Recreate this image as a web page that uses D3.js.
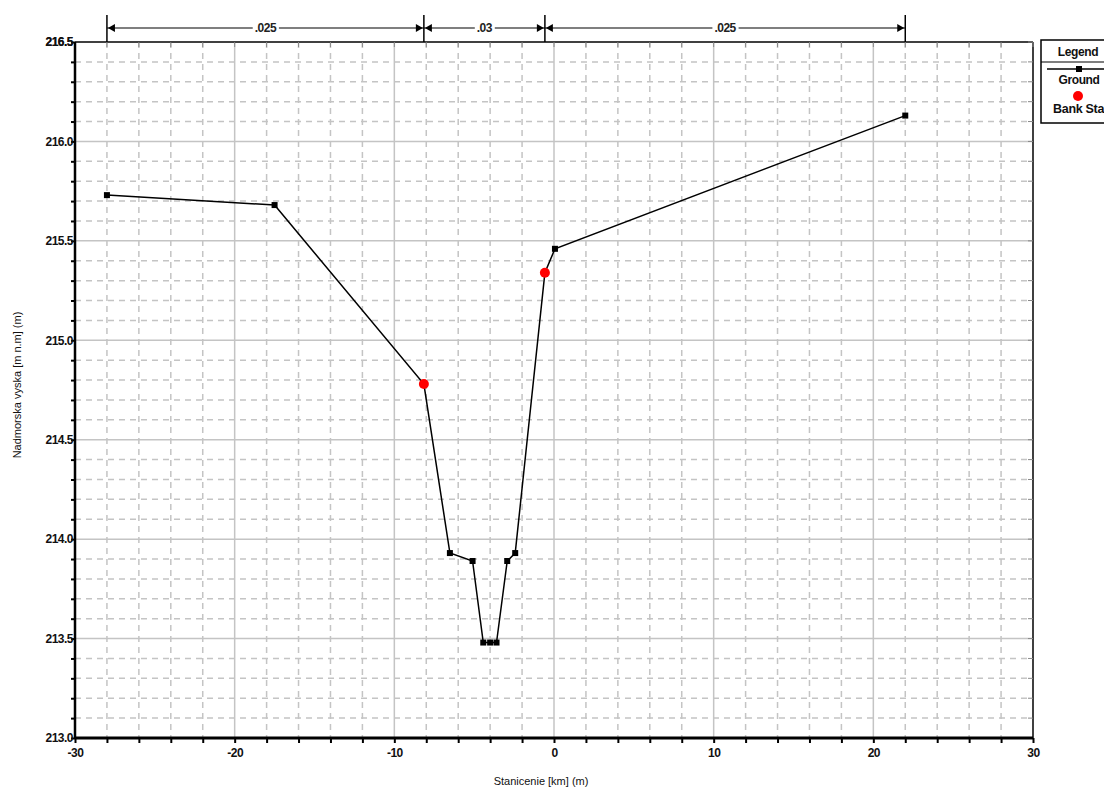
<!DOCTYPE html>
<html>
<head>
<meta charset="utf-8">
<script src="https://cdn.jsdelivr.net/npm/d3@7"></script>
<style>
  html, body { margin: 0; padding: 0; background: #fff; }
  svg { display: block; font-family: "Liberation Sans", Arial, sans-serif; }
</style>
</head>
<body>
<svg id="chart" width="1104" height="788"></svg>
<script>
// Cross-section geometry: station (m) and ground elevation (m n.m.)
const stations   = [-28, -17.5, -8.15, -6.52, -5.1, -4.43, -4.0, -3.6, -2.93, -2.43, -0.57, 0.06, 22];
const elevations = [215.73, 215.68, 214.78, 213.93, 213.89, 213.48, 213.48, 213.48, 213.89, 213.93, 215.34, 215.46, 216.13];

// Bank stations (left, right)
const bankStations   = [-8.15, -0.57];
const bankElevations = [214.78, 215.34];

// Manning's n zones along the section
const manningBreaks = [-28, -8.15, -0.57, 22];
const manningValues = [".025", ".03", ".025"];

// Axis ticks
const xTickLabels = [-30, -20, -10, 0, 10, 20, 30];
const yTickLabels = [213.0, 213.5, 214.0, 214.5, 215.0, 215.5, 216.0, 216.5];

const svg = d3.select("#chart");
const L = 75, R = 1033, T = 42, B = 738;

const x = d3.scaleLinear().domain([-30, 30]).range([L, R]);
const y = d3.scaleLinear().domain([213, 216.5]).range([B, T]);

const minorX = d3.range(-30, 30.001, 2);
const minorY = d3.range(0, 36).map(i => 213 + i * 0.1);

// plain hyphen for negative labels
const fmtX = d => String(d);

// Grid
const grid = svg.append("g");
grid.selectAll("line.vminor").data(minorX.filter(v => Math.abs(v % 10) > 0.01))
  .join("line")
  .attr("x1", d => x(d)).attr("x2", d => x(d)).attr("y1", T).attr("y2", B)
  .attr("stroke", "#c4c4c4").attr("stroke-width", 1.5).attr("stroke-dasharray", "6,5");
grid.selectAll("line.hminor").data(minorY.filter((v, i) => i % 5 !== 0))
  .join("line")
  .attr("x1", L).attr("x2", R).attr("y1", d => y(d)).attr("y2", d => y(d))
  .attr("stroke", "#c4c4c4").attr("stroke-width", 1.5).attr("stroke-dasharray", "6,5");
grid.selectAll("line.vmajor").data(xTickLabels.slice(1, -1))
  .join("line")
  .attr("x1", d => x(d)).attr("x2", d => x(d)).attr("y1", T).attr("y2", B)
  .attr("stroke", "#c4c4c4").attr("stroke-width", 1.5);
grid.selectAll("line.hmajor").data(yTickLabels.slice(1, -1))
  .join("line")
  .attr("x1", L).attr("x2", R).attr("y1", d => y(d)).attr("y2", d => y(d))
  .attr("stroke", "#c4c4c4").attr("stroke-width", 1.5);

// Frame: top and right edges with inward minor ticks
svg.append("line").attr("x1", L).attr("x2", R).attr("y1", T).attr("y2", T).attr("stroke", "#000").attr("stroke-width", 1.5);
svg.append("line").attr("x1", R).attr("x2", R).attr("y1", T).attr("y2", B).attr("stroke", "#000").attr("stroke-width", 1.5);
svg.append("g").selectAll("line").data(minorX).join("line")
  .attr("x1", d => x(d)).attr("x2", d => x(d)).attr("y1", T).attr("y2", T + 5)
  .attr("stroke", "#888").attr("stroke-width", 1);
svg.append("g").selectAll("line").data(minorY).join("line")
  .attr("x1", R - 5).attr("x2", R).attr("y1", d => y(d)).attr("y2", d => y(d))
  .attr("stroke", "#888").attr("stroke-width", 1);

// Bottom axis
const xAxis = svg.append("g").attr("transform", `translate(0,${B})`)
  .call(d3.axisBottom(x).tickValues(minorX).tickSize(5)
    .tickFormat(d => xTickLabels.includes(d) ? fmtX(d) : ""));
xAxis.select(".domain").attr("stroke-width", 3).attr("d", `M${L},0H${R}`);
xAxis.selectAll(".tick line").attr("stroke-width", 2);
xAxis.selectAll(".tick text").attr("font-size", 12).attr("font-weight", "bold")
  .attr("font-family", "Liberation Sans, Arial, sans-serif").attr("fill", "#111")
  .attr("letter-spacing", "-0.5").attr("dy", "0.95em");

// Left axis
const yAxis = svg.append("g").attr("transform", `translate(${L},0)`)
  .call(d3.axisLeft(y).tickValues(minorY).tickSize(4)
    .tickFormat((d, i) => i % 5 === 0 ? d.toFixed(1) : ""));
yAxis.select(".domain").attr("stroke-width", 2.5).attr("d", `M0,${B}V${T}`);
yAxis.selectAll(".tick line").attr("stroke-width", 2);
yAxis.selectAll(".tick text").attr("font-size", 12).attr("font-weight", "bold")
  .attr("font-family", "Liberation Sans, Arial, sans-serif").attr("fill", "#111")
  .attr("letter-spacing", "-0.5").attr("x", -2);
// Top label of the elevation axis
svg.append("text").attr("x", L - 2).attr("y", y(216.5)).attr("dy", "0.32em")
  .attr("text-anchor", "end").attr("font-size", 12).attr("font-weight", "bold")
  .attr("letter-spacing", "-0.5").attr("fill", "#111").text((216.5).toFixed(1));

// Axis titles
svg.append("text").attr("x", 541).attr("y", 785).attr("text-anchor", "middle")
  .attr("font-size", 11).attr("fill", "#111").text("Stanicenie [km] (m)");
svg.append("text").attr("transform", `translate(21,385) rotate(-90)`).attr("text-anchor", "middle")
  .attr("font-size", 11).attr("fill", "#111").text("Nadmorska vyska [m n.m] (m)");

// Ground profile
const line = d3.line().x((d, i) => x(stations[i])).y(d => y(d));
svg.append("path").datum(elevations).attr("d", line)
  .attr("fill", "none").attr("stroke", "#000").attr("stroke-width", 1.5);
svg.append("g").selectAll("rect").data(elevations).join("rect")
  .attr("x", (d, i) => x(stations[i]) - 3).attr("y", d => y(d) - 3)
  .attr("width", 6).attr("height", 6).attr("fill", "#000");

// Bank stations
svg.append("g").selectAll("circle").data(bankElevations).join("circle")
  .attr("cx", (d, i) => x(bankStations[i])).attr("cy", d => y(d))
  .attr("r", 5).attr("fill", "#ff0000");

// Manning's n zones above the plot
const nY = 28;
const nG = svg.append("g");
nG.selectAll("line.brk").data(manningBreaks).join("line")
  .attr("x1", d => x(d)).attr("x2", d => x(d)).attr("y1", 15).attr("y2", T)
  .attr("stroke", "#000").attr("stroke-width", 1.5);
nG.append("line").attr("x1", x(manningBreaks[0])).attr("x2", x(manningBreaks[manningBreaks.length - 1]))
  .attr("y1", nY).attr("y2", nY).attr("stroke", "#000").attr("stroke-width", 1.2);
manningValues.forEach((v, i) => {
  const a = x(manningBreaks[i]), b = x(manningBreaks[i + 1]);
  // arrowheads pointing to each break
  nG.append("path").attr("d", `M${a + 1},${nY}l7,-4l0,8z`).attr("fill", "#000");
  nG.append("path").attr("d", `M${b - 1},${nY}l-7,-4l0,8z`).attr("fill", "#000");
  const t = nG.append("text").attr("x", (a + b) / 2).attr("y", nY).attr("dy", "0.35em")
    .attr("text-anchor", "middle").attr("font-size", 12).attr("font-weight", "bold")
    .attr("letter-spacing", "-0.5").attr("fill", "#222").text(v);
  const bb = t.node().getBBox();
  nG.insert("rect", "text").attr("x", bb.x - 2).attr("y", bb.y).attr("width", bb.width + 4)
    .attr("height", bb.height).attr("fill", "#fff");
});

// Legend
const lg = svg.append("g");
lg.append("rect").attr("x", 1041).attr("y", 40).attr("width", 80).attr("height", 83)
  .attr("fill", "#fff").attr("stroke", "#000").attr("stroke-width", 1.5);
lg.append("line").attr("x1", 1041).attr("x2", 1121).attr("y1", 62).attr("y2", 62)
  .attr("stroke", "#000").attr("stroke-width", 1.2);
lg.append("text").attr("x", 1078).attr("y", 56).attr("text-anchor", "middle")
  .attr("font-size", 12).attr("font-weight", "bold").attr("letter-spacing", "-0.4").attr("fill", "#111").text("Legend");
lg.append("line").attr("x1", 1047).attr("x2", 1110).attr("y1", 69).attr("y2", 69)
  .attr("stroke", "#000").attr("stroke-width", 1.5);
lg.append("rect").attr("x", 1076).attr("y", 66).attr("width", 6).attr("height", 6).attr("fill", "#000");
lg.append("text").attr("x", 1079).attr("y", 84).attr("text-anchor", "middle")
  .attr("font-size", 12).attr("font-weight", "bold").attr("letter-spacing", "-0.4").attr("fill", "#111").text("Ground");
lg.append("circle").attr("cx", 1078).attr("cy", 96).attr("r", 5).attr("fill", "#ff0000");
lg.append("text").attr("x", 1053).attr("y", 113)
  .attr("font-size", 12.5).attr("font-weight", "bold").attr("letter-spacing", "-0.3").attr("fill", "#111").text("Bank Sta");
</script>
</body>
</html>
